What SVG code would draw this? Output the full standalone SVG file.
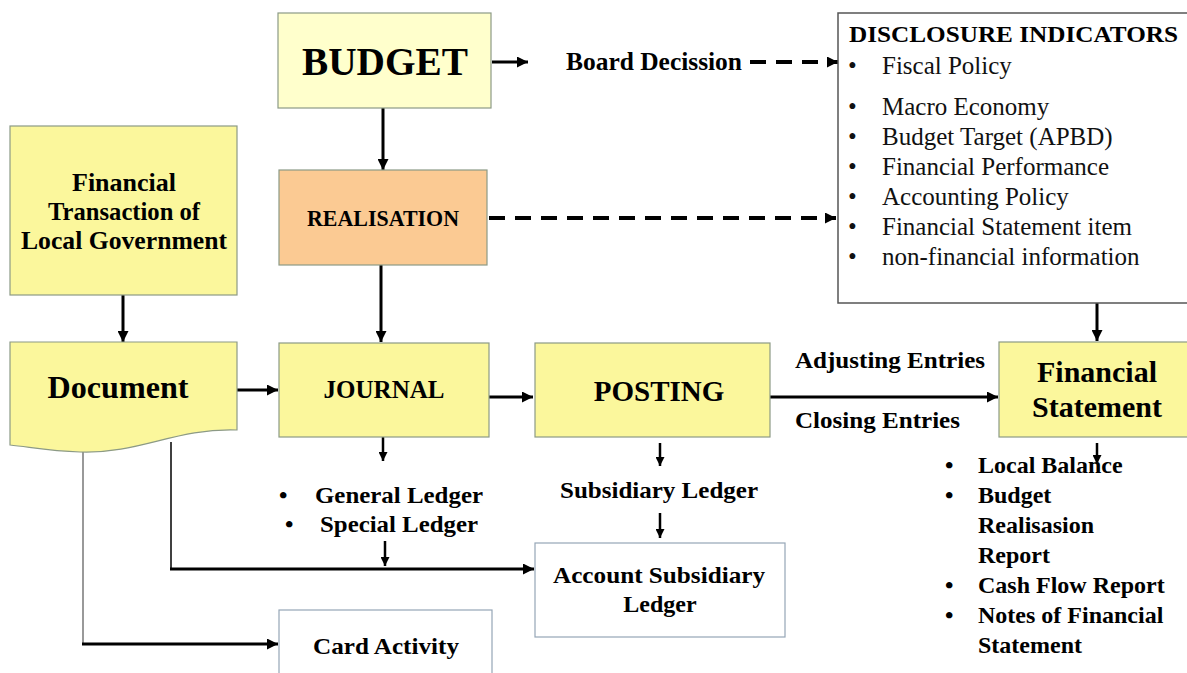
<svg xmlns="http://www.w3.org/2000/svg" width="1187" height="673" viewBox="0 0 1187 673">
<style>
.t{font-family:"Liberation Serif","Times New Roman",serif;font-weight:bold;fill:#000}
.r{font-family:"Liberation Serif","Times New Roman",serif;font-weight:normal;fill:#111}
.yb{fill:#FBF79C;stroke:#8C9A86;stroke-width:1.2}
.wb{fill:#fff;stroke:#95A6B6;stroke-width:1.2}
.c{fill:none;stroke:#000;stroke-width:3}
.d{fill:none;stroke:#000;stroke-width:4;stroke-dasharray:16 10}
.s{fill:none;stroke:#000;stroke-width:2.5}
</style>
<defs>
<marker id="ah" viewBox="0 0 10 10" refX="10" refY="5" markerUnits="userSpaceOnUse" markerWidth="11" markerHeight="11" orient="auto"><path d="M0,0 L10,5 L0,10 z" fill="#000"/></marker>
<marker id="ahs" viewBox="0 0 10 10" refX="10" refY="5" markerUnits="userSpaceOnUse" markerWidth="9" markerHeight="9" orient="auto"><path d="M0,0 L10,5 L0,10 z" fill="#000"/></marker>
</defs>
<rect width="1187" height="673" fill="#fff"/>

<g id="connectors">
<line class="c" x1="492" y1="62" x2="528" y2="62" marker-end="url(#ah)"/>
<line class="d" x1="750" y1="62" x2="838" y2="62" marker-end="url(#ah)"/>
<line class="c" x1="383" y1="108" x2="383" y2="170" marker-end="url(#ah)"/>
<line class="d" x1="489" y1="218" x2="836" y2="218" marker-end="url(#ah)"/>
<line class="c" x1="381" y1="265" x2="381" y2="342" marker-end="url(#ah)"/>
<line class="c" x1="123" y1="295" x2="123" y2="342" marker-end="url(#ah)"/>
<line class="c" x1="237" y1="390" x2="278" y2="390" marker-end="url(#ah)"/>
<line class="c" x1="488" y1="397" x2="533" y2="397" marker-end="url(#ah)"/>
<line class="c" x1="770" y1="397" x2="998" y2="397" marker-end="url(#ah)"/>
<line class="c" x1="1097" y1="302" x2="1097" y2="341" marker-end="url(#ah)"/>
<line class="s" x1="1097" y1="443" x2="1097" y2="464" marker-end="url(#ahs)"/>
<line class="s" x1="383" y1="437" x2="383" y2="461" marker-end="url(#ahs)"/>
<line class="s" x1="385" y1="541" x2="385" y2="566" marker-end="url(#ahs)"/>
<line class="s" x1="660" y1="443" x2="660" y2="466" marker-end="url(#ahs)"/>
<line class="s" x1="660" y1="513" x2="660" y2="538" marker-end="url(#ahs)"/>
<line x1="171" y1="442" x2="171" y2="569" stroke="#000" stroke-width="1.5"/>
<line class="c" x1="170" y1="569" x2="534" y2="569" stroke-width="4" marker-end="url(#ah)"/>
<line x1="83" y1="452" x2="83" y2="644" stroke="#777" stroke-width="1.5"/>
<line class="c" x1="82" y1="644" x2="278" y2="644" stroke-width="4" marker-end="url(#ah)"/>
</g>

<g id="budget">
<rect x="278" y="13" width="213" height="95" fill="#FFFFCC" stroke="#8C9A86" stroke-width="1.2"/>
<text class="t" x="385" y="75" font-size="39" text-anchor="middle" textLength="166" lengthAdjust="spacingAndGlyphs">BUDGET</text>
</g>

<g id="board-decission">
<text class="t" x="566" y="70" font-size="25" textLength="176" lengthAdjust="spacingAndGlyphs">Board Decission</text>
</g>

<g id="disclosure">
<rect x="838" y="13" width="360" height="290" fill="#fff" stroke="#555" stroke-width="1.5"/>
<text class="t" x="849" y="42" font-size="24" textLength="329" lengthAdjust="spacingAndGlyphs">DISCLOSURE INDICATORS</text>
<g class="r" font-size="25">
<text x="848" y="74">•</text><text x="882" y="74">Fiscal Policy</text>
<text x="848" y="115">•</text><text x="882" y="115">Macro Economy</text>
<text x="848" y="145">•</text><text x="882" y="145">Budget Target (APBD)</text>
<text x="848" y="175">•</text><text x="882" y="175">Financial Performance</text>
<text x="848" y="205">•</text><text x="882" y="205">Accounting Policy</text>
<text x="848" y="235">•</text><text x="882" y="235">Financial Statement item</text>
<text x="848" y="265">•</text><text x="882" y="265">non-financial information</text>
</g>
</g>

<g id="financial-transaction">
<rect class="yb" x="10" y="126" width="227" height="169"/>
<text class="t" font-size="26" text-anchor="middle" lengthAdjust="spacingAndGlyphs"><tspan x="124" y="191" textLength="104" lengthAdjust="spacingAndGlyphs">Financial</tspan><tspan x="124" y="220" textLength="152" lengthAdjust="spacingAndGlyphs">Transaction of</tspan><tspan x="124" y="249" textLength="206" lengthAdjust="spacingAndGlyphs">Local Government</tspan></text>
</g>

<g id="realisation">
<rect x="279" y="170" width="208" height="95" fill="#FBCA93" stroke="#8C9A86" stroke-width="1.2"/>
<text class="t" x="383" y="226" font-size="23" text-anchor="middle" textLength="152" lengthAdjust="spacingAndGlyphs">REALISATION</text>
</g>

<g id="document">
<path class="yb" d="M10,342 H237 V430 C175,428 140,454 80,452 C50,451 30,447 10,445 Z"/>
<text class="t" x="118" y="398" font-size="32" text-anchor="middle" textLength="141" lengthAdjust="spacingAndGlyphs">Document</text>
</g>

<g id="journal">
<rect class="yb" x="279" y="343" width="210" height="94"/>
<text class="t" x="384" y="398" font-size="25" text-anchor="middle">JOURNAL</text>
</g>

<g id="posting">
<rect class="yb" x="535" y="343" width="235" height="94"/>
<text class="t" x="659" y="401" font-size="29" text-anchor="middle">POSTING</text>
</g>

<g id="entries">
<text class="t" x="795" y="368" font-size="24" textLength="190" lengthAdjust="spacingAndGlyphs">Adjusting Entries</text>
<text class="t" x="795" y="428" font-size="24" textLength="165" lengthAdjust="spacingAndGlyphs">Closing Entries</text>
</g>

<g id="financial-statement">
<rect class="yb" x="999" y="342" width="200" height="95"/>
<text class="t" font-size="30" text-anchor="middle"><tspan x="1097" y="382">Financial</tspan><tspan x="1097" y="417">Statement</tspan></text>
</g>

<g id="statement-items">
<g class="t" font-size="24">
<text x="945" y="473">•</text><text x="978" y="473">Local Balance</text>
<text x="945" y="503">•</text><text x="978" y="503">Budget</text>
<text x="978" y="533">Realisasion</text>
<text x="978" y="563">Report</text>
<text x="945" y="593">•</text><text x="978" y="593">Cash Flow Report</text>
<text x="945" y="623">•</text><text x="978" y="623">Notes of Financial</text>
<text x="978" y="653">Statement</text>
</g>
</g>

<g id="ledgers">
<text class="t" x="279" y="503" font-size="24">•</text>
<text class="t" x="315" y="503" font-size="24" textLength="168" lengthAdjust="spacingAndGlyphs">General Ledger</text>
<text class="t" x="285" y="532" font-size="24">•</text>
<text class="t" x="320" y="532" font-size="24" textLength="158" lengthAdjust="spacingAndGlyphs">Special Ledger</text>
</g>

<g id="subsidiary-ledger">
<text class="t" x="659" y="498" font-size="24" text-anchor="middle" textLength="198" lengthAdjust="spacingAndGlyphs">Subsidiary Ledger</text>
</g>

<g id="account-subsidiary-ledger">
<rect class="wb" x="535" y="543" width="250" height="94"/>
<text class="t" x="659" y="583" font-size="24" text-anchor="middle" textLength="212" lengthAdjust="spacingAndGlyphs">Account Subsidiary</text>
<text class="t" x="660" y="612" font-size="24" text-anchor="middle">Ledger</text>
</g>

<g id="card-activity">
<rect class="wb" x="279" y="610" width="213" height="80"/>
<text class="t" x="386" y="654" font-size="24" text-anchor="middle" textLength="146" lengthAdjust="spacingAndGlyphs">Card Activity</text>
</g>
</svg>
